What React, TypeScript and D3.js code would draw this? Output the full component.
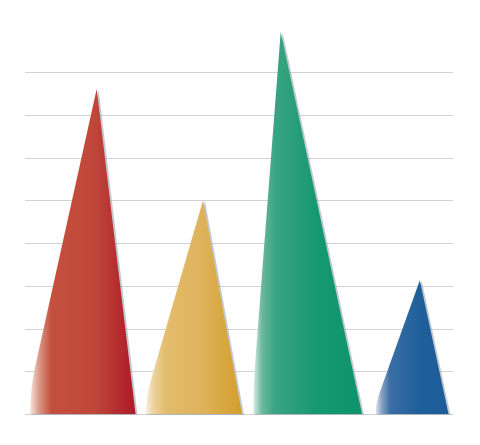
import React, { useEffect, useRef } from "react";
import * as d3 from "d3";

// category data (labels are not drawn in the chart)
const categories = ["A", "B", "C", "D"];
const values = [7.6, 5.0, 8.94, 3.13];
// triangle footprint in category units (x domain 0..4)
const baseStart = [0.047, 1.128, 2.134, 3.276];
const peakAt = [0.67, 1.664, 2.39, 3.69];
const baseEnd = [1.033, 2.028, 3.15, 3.958];
const gridTicks = [0, 1, 2, 3, 4, 5, 6, 7, 8];

const palettes = [
  ["#f6e8dc", "#dc9c8c", "#c4503f", "#c0473a", "#ae1a28"],
  ["#faf1e2", "#ecd3a0", "#e3bd6e", "#deb25a", "#d49e2c"],
  ["#d8ece4", "#6cb89c", "#3aa482", "#14986f", "#0e946c"],
  ["#e0e6f0", "#8ea4c4", "#3a6ea4", "#1f5f9a", "#1d5c98"],
];

export default function App() {
  const ref = useRef<SVGSVGElement>(null);

  useEffect(() => {
    if (!ref.current) return;
    document.body.style.margin = "0";
    const svg = d3.select(ref.current);
    svg.selectAll("*").remove();

    const width = 480;
    const height = 445;
    const margin = { top: 72, right: 27, bottom: 31, left: 25 };

    const x = d3.scaleLinear().domain([0, 4]).range([margin.left, width - margin.right]);
    const y = d3.scaleLinear().domain([0, 8]).range([height - margin.bottom, margin.top]);

    const defs = svg.append("defs");
    palettes.forEach((p, i) => {
      const g = defs
        .append("linearGradient")
        .attr("id", `cone-${i}`)
        .attr("x1", "0%")
        .attr("y1", "0%")
        .attr("x2", "100%")
        .attr("y2", "0%");
      [0, 0.08, 0.2, 0.6, 1].forEach((o, k) => {
        g.append("stop").attr("offset", `${o * 100}%`).attr("stop-color", p[k]);
      });
    });

    // grid lines
    svg
      .append("g")
      .selectAll("line")
      .data(gridTicks)
      .join("line")
      .attr("x1", x(0))
      .attr("x2", x(4))
      .attr("y1", (d) => Math.round(y(d)) + 0.5)
      .attr("y2", (d) => Math.round(y(d)) + 0.5)
      .attr("stroke", "#d2d2d2")
      .attr("stroke-width", 1.2);

    const conePath = (i: number) => {
      const x0 = x(baseStart[i]);
      const xp = x(peakAt[i]);
      const x1 = x(baseEnd[i]);
      const yb = y(0);
      const yp = y(values[i]);
      // left side bends to vertical near the base (cone flare)
      const xAim = x0 - 0.08 * (xp - x0);
      const f = (xp - x0) / (xp - xAim);
      const yc = yp + f * (yb - yp);
      const yk = 2 * yc - yb;
      const xk = xp + (xAim - xp) * ((yk - yp) / (yb - yp));
      return `M${xp},${yp} L${xk},${yk} Q${x0},${yc} ${x0},${yb} L${x1},${yb} Z`;
    };

    const cones = svg.append("g");
    categories.forEach((_, i) => {
      cones
        .append("path")
        .attr("d", conePath(i))
        .attr("transform", "translate(2,1)")
        .attr("fill", "#8e9cab")
        .attr("opacity", 0.55);
      cones
        .append("path")
        .attr("d", conePath(i))
        .attr("fill", `url(#cone-${i})`);
    });
  }, []);

  return <svg ref={ref} width={480} height={445} style={{ display: "block" }} />;
}
